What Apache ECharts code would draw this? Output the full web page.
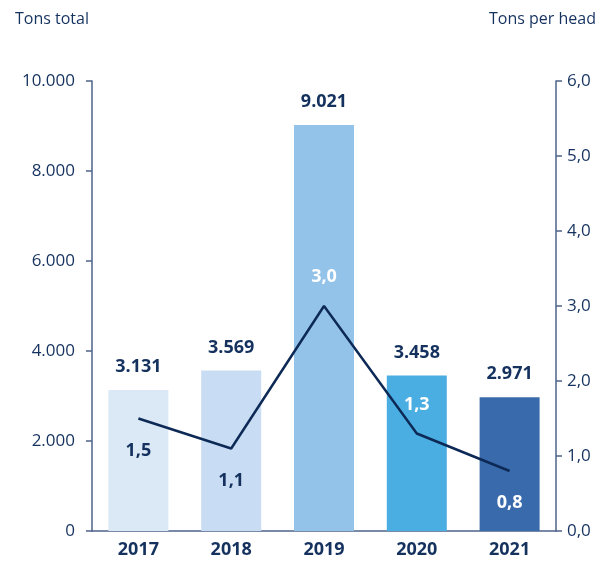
<!DOCTYPE html>
<html>
<head>
<meta charset="utf-8">
<script src="https://cdn.jsdelivr.net/npm/echarts@6/dist/echarts.min.js"></script>
<style>
  html, body { margin: 0; padding: 0; background: #fff; }
  #chartPanel { width: 613px; height: 568px; }
</style>
</head>
<body>
<div id="chartPanel"></div>
<script>
var years = ['2017', '2018', '2019', '2020', '2021'];
var tonsTotal = [3131, 3569, 9021, 3458, 2971];
var tonsPerHead = [1.5, 1.1, 3.0, 1.3, 0.8];
var barColors = ['#dbe8f6', '#c8ddf3', '#94c3e9', '#4aaee2', '#396bac'];
// label placement for the per-head line: below for 2017/2018/2021, above for 2019/2020
var headLabelPos = ['bottom', 'bottom', 'top', 'top', 'bottom'];
var headLabelColor = ['#15325f', '#15325f', '#ffffff', '#ffffff', '#ffffff'];

var navy = '#15325f';
var axisColor = '#4d6389';
var font = '"Open Sans", "Noto Sans", sans-serif';

function deNum(v, dec) {
  if (dec) return v.toFixed(dec).replace('.', ',');
  return String(v).replace(/\B(?=(\d{3})+(?!\d))/g, '.');
}

var chartPanel = echarts.init(document.getElementById('chartPanel'));

var option = {
  animation: false,
  textStyle: { fontFamily: font },
  title: [
    { text: 'Tons total', left: 10, top: 6,
      textStyle: { fontSize: 16, fontWeight: 'normal', color: navy, fontFamily: font } },
    { text: 'Tons per head', right: 12, top: 6,
      textStyle: { fontSize: 16, fontWeight: 'normal', color: navy, fontFamily: font } }
  ],
  grid: { left: 92, right: 57, top: 81, bottom: 37 },
  xAxis: {
    type: 'category',
    data: years,
    axisLine: { lineStyle: { color: axisColor, width: 1.5 } },
    axisTick: { show: false },
    axisLabel: { color: navy, fontSize: 18, fontWeight: 'bold', margin: 10 }
  },
  yAxis: [
    {
      type: 'value', min: 0, max: 10000, interval: 2000,
      axisLine: { show: true, lineStyle: { color: axisColor, width: 1.5 } },
      axisTick: { show: true, length: 6, lineStyle: { color: axisColor, width: 1.5 } },
      axisLabel: { color: navy, fontSize: 17, margin: 17, formatter: function (v) { return deNum(v); } },
      splitLine: { show: false }
    },
    {
      type: 'value', min: 0, max: 6, interval: 1,
      axisLine: { show: true, lineStyle: { color: axisColor, width: 1.5 } },
      axisTick: { show: true, length: 6, lineStyle: { color: axisColor, width: 1.5 } },
      axisLabel: { color: navy, fontSize: 17, margin: 11, formatter: function (v) { return deNum(v, 1); } },
      splitLine: { show: false }
    }
  ],
  series: [
    {
      name: 'Tons total',
      type: 'bar',
      barWidth: 60,
      data: tonsTotal.map(function (v, i) {
        return { value: v, itemStyle: { color: barColors[i] } };
      }),
      label: {
        show: true, position: 'top', distance: 14,
        color: navy, fontSize: 18, fontWeight: 'bold',
        formatter: function (p) { return deNum(p.value); }
      }
    },
    {
      name: 'Tons per head',
      type: 'line',
      yAxisIndex: 1,
      showSymbol: true,
      symbol: 'circle',
      symbolSize: 0,
      lineStyle: { color: '#0d2a57', width: 2.5 },
      itemStyle: { color: '#0d2a57' },
      data: tonsPerHead.map(function (v, i) {
        return {
          value: v,
          label: {
            show: true,
            position: headLabelPos[i],
            distance: headLabelPos[i] === 'top' ? 20 : 23,
            color: headLabelColor[i],
            fontSize: 18, fontWeight: 'bold',
            formatter: function (p) { return deNum(p.value, 1); }
          }
        };
      })
    }
  ]
};
chartPanel.setOption(option);
</script>
</body>
</html>
